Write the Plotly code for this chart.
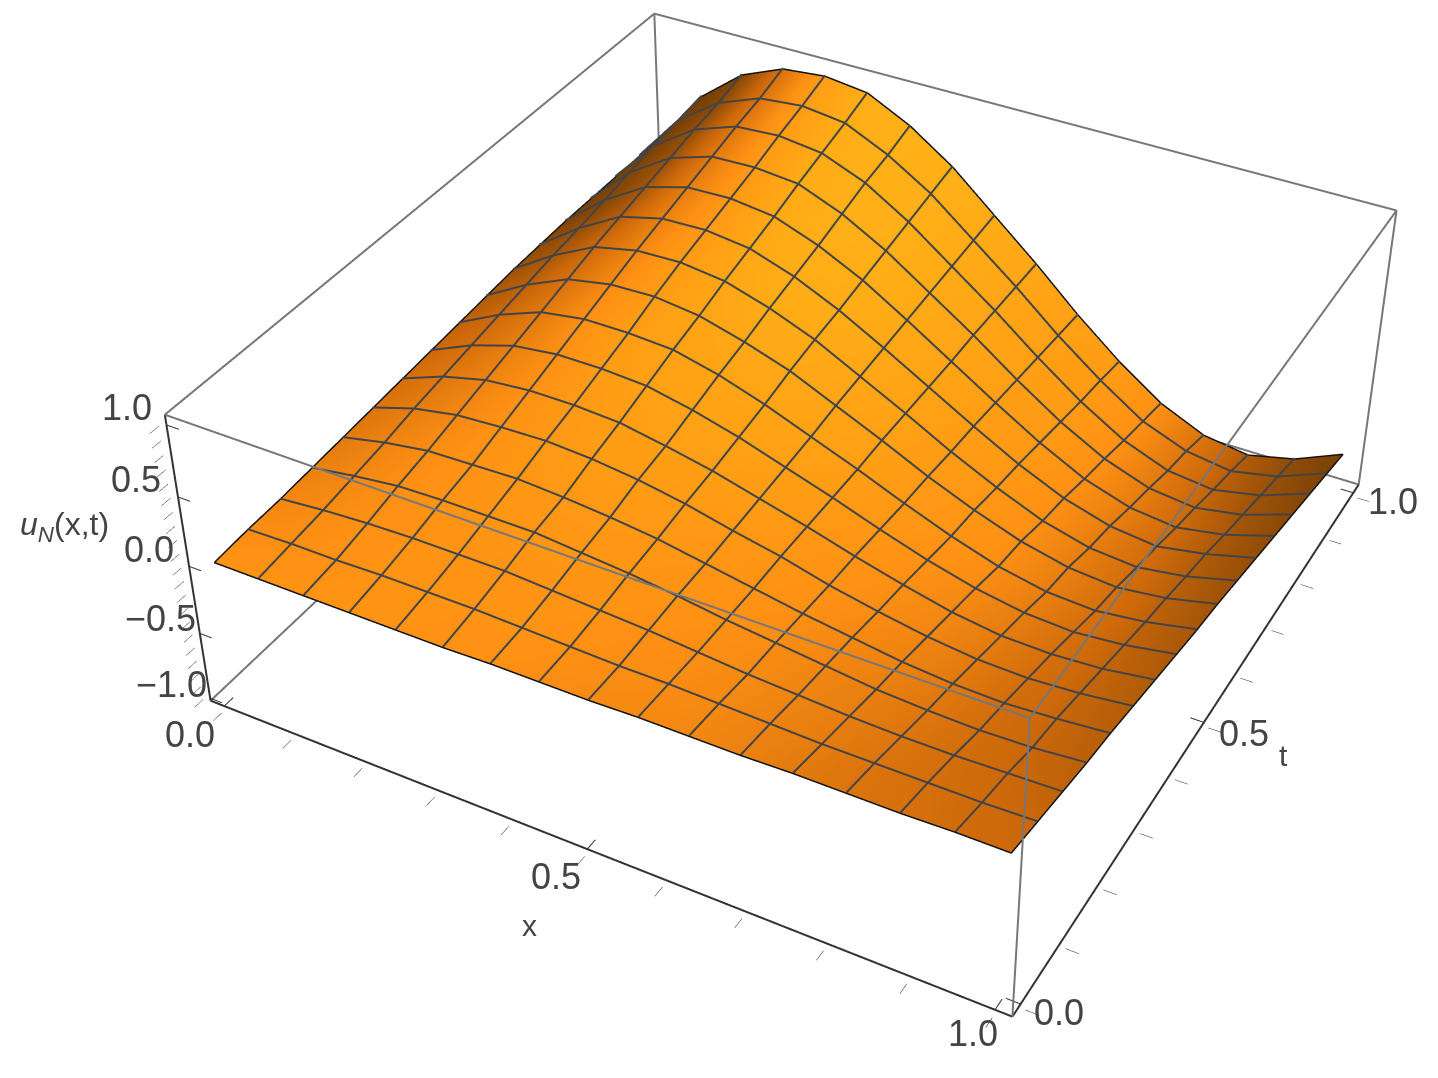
import numpy as np
import plotly.graph_objects as go

x_values = [i / 16 for i in range(17)]
t_values = [i / 16 for i in range(17)]
z_table = np.array([
 [-.01,-.01,-.01,-.01,-.01,-.01,0,0,0,.01,.01,.01,.02,.02,.02,.03,.03],
 [.01,.02,.02,.03,.03,.03,.02,.01,0,0,-.01,-.02,-.03,-.03,-.03,-.03,-.02],
 [.02,.05,.07,.08,.08,.08,.06,.04,.02,-.01,-.04,-.06,-.08,-.09,-.09,-.08,-.07],
 [.04,.09,.13,.14,.14,.14,.11,.08,.04,-.01,-.05,-.09,-.13,-.15,-.16,-.15,-.12],
 [.06,.13,.18,.19,.20,.18,.15,.11,.05,-.01,-.07,-.12,-.17,-.20,-.21,-.19,-.16],
 [.08,.18,.24,.26,.27,.25,.21,.15,.07,0,-.09,-.16,-.22,-.26,-.27,-.25,-.21],
 [.10,.22,.30,.33,.33,.31,.25,.18,.09,0,-.10,-.19,-.27,-.32,-.33,-.31,-.26],
 [.12,.26,.36,.40,.40,.38,.31,.22,.11,0,-.12,-.23,-.32,-.38,-.40,-.37,-.31],
 [.14,.30,.42,.47,.47,.45,.37,.26,.13,0,-.14,-.27,-.38,-.45,-.47,-.43,-.36],
 [.16,.34,.48,.54,.55,.51,.42,.31,.16,.01,-.15,-.29,-.41,-.49,-.52,-.48,-.40],
 [.18,.38,.54,.61,.62,.58,.48,.35,.18,.01,-.17,-.33,-.47,-.56,-.59,-.54,-.45],
 [.19,.41,.59,.67,.68,.64,.53,.38,.20,.01,-.18,-.36,-.51,-.61,-.65,-.59,-.50],
 [.20,.45,.64,.73,.74,.70,.58,.42,.22,.01,-.20,-.40,-.57,-.68,-.72,-.66,-.55],
 [.20,.49,.69,.79,.80,.77,.64,.46,.24,.02,-.22,-.44,-.62,-.74,-.78,-.72,-.60],
 [.20,.53,.74,.85,.87,.83,.70,.50,.26,.02,-.24,-.48,-.68,-.81,-.85,-.78,-.65],
 [.20,.56,.78,.90,.93,.89,.74,.54,.28,.02,-.26,-.51,-.73,-.86,-.91,-.84,-.70],
 [.20,.59,.84,.97,1.0,.96,.80,.58,.30,.02,-.28,-.55,-.78,-.93,-.98,-.90,-.75],
])

shade = [
 [.52,.52,.52,.52,.52,.50,.50,.48,.46,.45,.44,.40,.36,.32,.30,.27,.25],
 [.48,.495,.51,.52,.525,.52,.52,.50,.48,.47,.45,.41,.37,.32,.29,.26,.24],
 [.44,.47,.50,.52,.53,.53,.53,.52,.50,.48,.46,.42,.38,.33,.28,.25,.22],
 [.40,.445,.49,.52,.54,.55,.55,.54,.52,.50,.47,.43,.39,.34,.28,.24,.21],
 [.36,.42,.48,.52,.55,.57,.57,.56,.54,.52,.49,.45,.41,.35,.28,.24,.20],
 [.325,.38,.45,.515,.57,.60,.60,.59,.57,.54,.51,.47,.43,.36,.285,.235,.19],
 [.29,.34,.42,.51,.58,.62,.63,.62,.60,.57,.53,.49,.44,.37,.29,.23,.18],
 [.255,.30,.39,.505,.60,.64,.66,.65,.63,.60,.55,.51,.46,.38,.295,.225,.17],
 [.22,.26,.36,.50,.62,.66,.68,.68,.66,.62,.58,.53,.48,.39,.30,.22,.16],
 [.18,.215,.31,.47,.61,.68,.71,.71,.68,.64,.59,.55,.49,.39,.29,.21,.145],
 [.14,.17,.26,.44,.60,.70,.74,.73,.70,.66,.60,.56,.49,.38,.28,.195,.13],
 [.10,.125,.21,.41,.59,.71,.77,.76,.71,.67,.61,.57,.49,.38,.27,.18,.115],
 [.06,.08,.16,.38,.58,.72,.80,.78,.72,.68,.62,.58,.50,.38,.26,.17,.10],
 [.05,.07,.14,.36,.59,.735,.81,.79,.73,.685,.63,.585,.50,.365,.24,.15,.09],
 [.04,.055,.12,.34,.60,.75,.825,.80,.735,.69,.635,.59,.50,.35,.22,.135,.075],
 [.03,.04,.10,.32,.61,.765,.84,.81,.74,.695,.64,.595,.50,.335,.20,.12,.06],
 [.02,.03,.08,.30,.62,.78,.85,.82,.75,.70,.65,.60,.50,.32,.18,.10,.05],
]

x_range = [-0.02, 1.02]
t_range = [-0.02, 1.02]
z_range = [-1.02, 1.07]
x_ticks = [round(i * .1, 1) for i in range(11)]
t_ticks = x_ticks
z_ticks = [round(-1 + i * .1, 1) for i in range(21)]
major_x = [0, .5, 1]
major_t = [0, .5, 1]
major_z = [-1, -.5, 0, .5, 1]
tick_font = dict(family='Liberation Sans', size=36, color='#444')
title_font = dict(family='Liberation Sans', size=30, color='#444')

def labels(vals):
    return [f"{v:.1f}".replace('-', '\u2212') if abs(v * 2 - round(v * 2)) < 1e-9 else "" for v in vals]

W, H = 1622, 2465
CX, CY = 811, 452

fig = go.Figure()
fig.add_trace(go.Surface(
    x=x_values, y=t_values, z=z_table, surfacecolor=shade, cmin=0, cmax=1, showscale=False,
    colorscale=[[0, 'rgb(100,55,5)'], [.25, 'rgb(205,105,10)'], [.5, 'rgb(255,145,20)'], [.75, 'rgb(255,172,22)'], [1, 'rgb(255,185,25)']],
    lighting=dict(ambient=1, diffuse=0, specular=0, fresnel=0, roughness=1),
))
lift = .012
edge_lift = .005
mx, my, mz = [], [], []
for j in range(1, 16):
    mx += list(x_values) + [None]; my += [t_values[j]] * 17 + [None]; mz += list(z_table[j] + lift) + [None]
for i in range(1, 16):
    mx += [x_values[i]] * 17 + [None]; my += list(t_values) + [None]; mz += list(z_table[:, i] + lift) + [None]
fig.add_trace(go.Scatter3d(x=mx, y=my, z=mz, mode='lines', line=dict(color='#444', width=4),
                           hoverinfo='skip', showlegend=False))
ex, ey, ez = [], [], []
for j in (0, 16):
    ex += list(x_values) + [None]; ey += [t_values[j]] * 17 + [None]; ez += list(z_table[j] + edge_lift) + [None]
for i in (0, 16):
    ex += [x_values[i]] * 17 + [None]; ey += list(t_values) + [None]; ez += list(z_table[:, i] + edge_lift) + [None]
fig.add_trace(go.Scatter3d(x=ex, y=ey, z=ez, mode='lines', line=dict(color='#111', width=3),
                           hoverinfo='skip', showlegend=False))
xa, xb = x_range; ya, yb = t_range; za, zb = z_range
bx = [xb, xb, None, xb, xb, None, xa, xa, None, xa, xb, xb, xa, xa, None, xa, xa, None, xb, xa]
by = [ya, ya, None, yb, yb, None, yb, yb, None, ya, ya, yb, yb, ya, None, ya, yb, None, yb, yb]
bz = [za, zb, None, za, zb, None, za, zb, None, zb, zb, zb, zb, zb, None, za, za, None, za, za]
fig.add_trace(go.Scatter3d(x=bx, y=by, z=bz, mode='lines', line=dict(color='#777', width=4),
                           hoverinfo='skip', showlegend=False))
fig.add_trace(go.Scatter3d(x=[xa, xa, None, xa, xb, None, xb, xb], y=[ya, ya, None, ya, ya, None, ya, yb],
                           z=[zb, za, None, za, za, None, za, za], mode='lines', line=dict(color='#333', width=4),
                           hoverinfo='skip', showlegend=False))
mjx, mjy, mjz = [], [], []
reach = .017
for v in major_x:
    mjx += [v, v, None]; mjy += [ya, ya + reach, None]; mjz += [za, za, None]
for v in major_t:
    mjx += [xb, xb - reach, None]; mjy += [v, v, None]; mjz += [za, za, None]
for v in major_z:
    mjx += [xa, xa + reach, None]; mjy += [ya, ya, None]; mjz += [v, v, None]
fig.add_trace(go.Scatter3d(x=mjx, y=mjy, z=mjz, mode='lines', line=dict(color='#333', width=2),
                           hoverinfo='skip', showlegend=False))

pad_xy, pad_z = .006, .03

def axis(rng, ticks, pad):
    return dict(range=[rng[0] - pad, rng[1] + pad], tickmode='array', tickvals=ticks, ticktext=labels(ticks), title=dict(text=''),
                showgrid=False, zeroline=False, showbackground=False, showspikes=False, showticklabels=False,
                showline=False, ticks='outside', ticklen=11, tickwidth=1, tickcolor='#222')

def note(x, y, z, text, dx, dy, font):
    return dict(x=x, y=y, z=z, text=text, showarrow=False, font=font, xshift=dx, yshift=dy)

annotations = []
for v, (dx, dy) in zip(major_x, [(-34, -28), (-31, -27), (-22, -24)]):
    annotations.append(note(v, ya, za, f"{v:.1f}", dx, dy, tick_font))
for v, (dx, dy) in zip(major_t, [(38, -8), (40, -11), (40, -9)]):
    annotations.append(note(xb, v, za, f"{v:.1f}", dx, dy, tick_font))
for v, (dx, dy) in zip(major_z, [(-39, 14), (-39, 15), (-40, 17), (-42, 17), (-39, 17)]):
    annotations.append(note(xa, ya, v, f"{v:.1f}".replace('-', '\u2212'), dx, dy, tick_font))
annotations.append(note(.45, ya, za, 'x', -20, -91, title_font))
annotations.append(note(xb, .5, za, 't', 80, -33, title_font))
annotations.append(note(xa, ya, .2, '<i>u</i><sub><i>N</i></sub>(x,t)', -120, 12, dict(family='Liberation Sans', size=32, color='#444')))

fig.update_layout(
    width=W, height=H, margin=dict(l=0, r=0, t=0, b=0), paper_bgcolor='white',
    scene=dict(
        domain=dict(x=[0, 1], y=[0, 1]),
        xaxis=axis(x_range, x_ticks, pad_xy), yaxis=axis(t_range, t_ticks, pad_xy), zaxis=axis(z_range, z_ticks, pad_z),
        aspectmode='manual', aspectratio=dict(x=1.0115, y=1.0115, z=.41),
        camera=dict(eye=dict(x=1.3, y=-2.4, z=2.03), center=dict(x=0, y=0, z=0), up=dict(x=0, y=0, z=1)),
        annotations=annotations,
    ),
)
post = f"""
var gd=document.getElementById('{{plot_id}}');
document.documentElement.style.overflow='hidden';
document.body.style.overflow='hidden';
document.body.style.margin='0';
gd.style.position='absolute';
gd.style.left='{CX - W // 2}px';
gd.style.top='{CY - H // 2}px';
"""
fig.write_html("out.html", post_script=post)
